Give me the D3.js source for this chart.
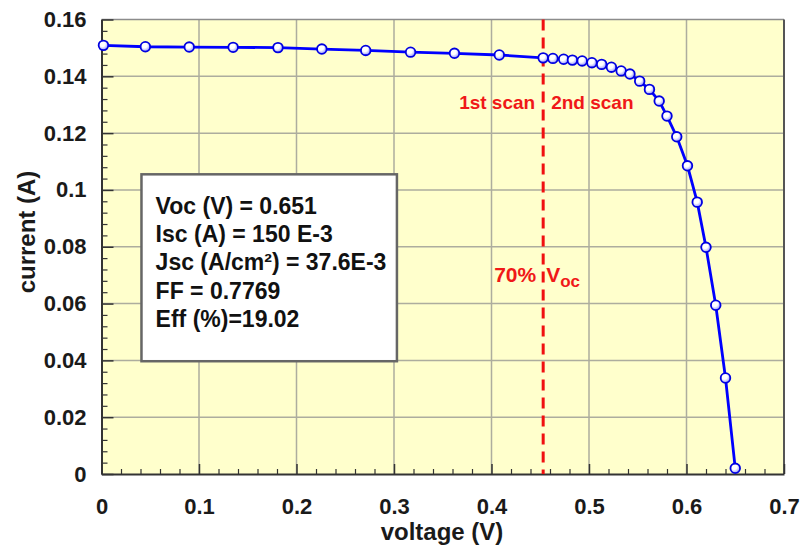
<!DOCTYPE html>
<html>
<head>
<meta charset="utf-8">
<script src="https://cdn.jsdelivr.net/npm/d3@7"></script>
<style>
  body { margin: 0; background: #fff; }
  svg text { font-family: "Liberation Sans", Arial, sans-serif; font-weight: bold; }
</style>
</head>
<body>
<div id="chart"></div>
<script>
// first scan: 0 .. 70% Voc
const firstScanV = [0.002, 0.045, 0.090, 0.135, 0.181, 0.226, 0.271, 0.317, 0.362, 0.408, 0.453];
const firstScanI = [0.1509, 0.1504, 0.1503, 0.1502, 0.1501, 0.1496, 0.1491, 0.1485, 0.1481, 0.1475, 0.1465];
// second scan: 70% Voc .. Voc
const secondScanV = [0.453, 0.463, 0.474, 0.483, 0.493, 0.503, 0.513, 0.523, 0.533, 0.542,
    0.552, 0.562, 0.572, 0.580, 0.590, 0.601, 0.611, 0.620, 0.630, 0.640, 0.650];
const secondScanI = [0.1465, 0.1463, 0.1460, 0.1457, 0.1454, 0.1448, 0.1442, 0.1432, 0.1419, 0.1408,
    0.1383, 0.1354, 0.1313, 0.1260, 0.1187, 0.1085, 0.0957, 0.0798, 0.0594, 0.0338, 0.0020];

const xTicks = [0, 0.1, 0.2, 0.3, 0.4, 0.5, 0.6, 0.7];
const yTicks = [0, 0.02, 0.04, 0.06, 0.08, 0.1, 0.12, 0.14, 0.16];
const splitV = 0.453;
const statLines = ['Voc (V) = 0.651', 'Isc (A) = 150 E-3', 'Jsc (A/cm\u00B2) = 37.6E-3', 'FF = 0.7769', 'Eff (%)=19.02'];

const data = firstScanV.map((v, i) => ({v: v, i: firstScanI[i]}))
    .concat(secondScanV.slice(1).map((v, i) => ({v: v, i: secondScanI[i + 1]})));

const W = 803, H = 548;
const plot = {left: 101.5, right: 784, top: 19.5, bottom: 474};

const svg = d3.select('#chart').append('svg')
    .attr('width', W)
    .attr('height', H);

const defs = svg.append('defs');
const grad = defs.append('radialGradient')
    .attr('id', 'ball')
    .attr('cx', '40%').attr('cy', '35%').attr('r', '70%');
grad.append('stop').attr('offset', '0%').attr('stop-color', '#ffffff');
grad.append('stop').attr('offset', '40%').attr('stop-color', '#ffffff');
grad.append('stop').attr('offset', '75%').attr('stop-color', '#b8b8ff');
grad.append('stop').attr('offset', '100%').attr('stop-color', '#3030ff');

const xScale = d3.scaleLinear()
    .domain([0, 0.7])
    .range([plot.left, plot.right]);

const yScale = d3.scaleLinear()
    .domain([0, 0.16])
    .range([plot.bottom, plot.top]);

// background
svg.append('rect')
    .attr('x', plot.left)
    .attr('y', plot.top)
    .attr('width', plot.right - plot.left)
    .attr('height', plot.bottom - plot.top)
    .attr('fill', '#ffffcc');

// grid
svg.append('g')
    .selectAll('line.vg')
    .data(xTicks.slice(1, -1))
    .enter()
    .append('line')
    .attr('x1', d => xScale(d)).attr('x2', d => xScale(d))
    .attr('y1', plot.top).attr('y2', plot.bottom)
    .attr('stroke', '#adad9e')
    .attr('stroke-width', 1.5);

svg.append('g')
    .selectAll('line.hg')
    .data(yTicks.slice(1, -1))
    .enter()
    .append('line')
    .attr('x1', plot.left).attr('x2', plot.right)
    .attr('y1', d => yScale(d)).attr('y2', d => yScale(d))
    .attr('stroke', '#adad9e')
    .attr('stroke-width', 1.5);

// frame top / right
svg.append('line')
    .attr('x1', plot.left).attr('x2', plot.right)
    .attr('y1', plot.top).attr('y2', plot.top)
    .attr('stroke', '#8c8c8c').attr('stroke-width', 1.5);
svg.append('line')
    .attr('x1', plot.right).attr('x2', plot.right)
    .attr('y1', plot.top).attr('y2', plot.bottom)
    .attr('stroke', '#555').attr('stroke-width', 2);

// minor ticks
const xMinor = d3.range(0, 71, 2).map(d => d / 100).filter(d => xTicks.indexOf(d) < 0);
const yMinor = d3.range(0, 161, 4).map(d => d / 1000).filter(d => yTicks.indexOf(d) < 0);

svg.append('g')
    .attr('transform', `translate(0, ${plot.bottom})`)
    .call(d3.axisBottom(xScale).tickValues(xMinor).tickFormat('').tickSize(-5).tickSizeOuter(0))
    .call(g => g.select('.domain').remove())
    .selectAll('line').attr('stroke', '#333').attr('stroke-width', 1.2);

svg.append('g')
    .attr('transform', `translate(${plot.left}, 0)`)
    .call(d3.axisLeft(yScale).tickValues(yMinor).tickFormat('').tickSize(-6).tickSizeOuter(0))
    .call(g => g.select('.domain').remove())
    .selectAll('line').attr('stroke', '#333').attr('stroke-width', 1.2);

// major axes
const xAxis = d3.axisBottom(xScale)
    .tickValues(xTicks)
    .tickFormat(d => d === 0 ? '0' : d3.format('.1f')(d))
    .tickSize(-10)
    .tickSizeOuter(0)
    .tickPadding(24);

const yAxis = d3.axisLeft(yScale)
    .tickValues(yTicks)
    .tickFormat(d => d === 0 ? '0' : String(+d.toFixed(2)))
    .tickSize(-12)
    .tickSizeOuter(0)
    .tickPadding(15);

const xAxisGroup = svg.append('g')
    .attr('class', 'axis x-axis')
    .attr('transform', `translate(0, ${plot.bottom})`)
    .call(xAxis);

const yAxisGroup = svg.append('g')
    .attr('class', 'axis y-axis')
    .attr('transform', `translate(${plot.left}, 0)`)
    .call(yAxis);

[xAxisGroup, yAxisGroup].forEach(g => {
    g.select('.domain').attr('stroke', '#333').attr('stroke-width', 2);
    g.selectAll('.tick line').attr('stroke', '#333').attr('stroke-width', 1.5);
    g.selectAll('.tick text')
        .attr('fill', '#1a1a1a')
        .style('font-size', '22px')
        .style('font-family', '"Liberation Sans", Arial, sans-serif')
        .style('font-weight', 'bold');
});
xAxisGroup.selectAll('.tick text').attr('dy', '0.71em');

// axis titles
svg.append('text')
    .attr('x', 442)
    .attr('y', 540)
    .attr('text-anchor', 'middle')
    .attr('fill', '#1a1a1a')
    .style('font-size', '24px')
    .text('voltage (V)');

svg.append('text')
    .attr('transform', `translate(35, 232) rotate(-90)`)
    .attr('text-anchor', 'middle')
    .attr('fill', '#1a1a1a')
    .style('font-size', '24px')
    .text('current (A)');

// stats box
const box = svg.append('g');
box.append('rect')
    .attr('x', xScale(0.041))
    .attr('y', yScale(0.1055))
    .attr('width', xScale(0.303) - xScale(0.041))
    .attr('height', yScale(0.0397) - yScale(0.1055))
    .attr('fill', '#fff')
    .attr('stroke', '#666')
    .attr('stroke-width', 2.5);

box.selectAll('text')
    .data(statLines)
    .enter()
    .append('text')
    .attr('x', xScale(0.0555))
    .attr('y', (d, i) => 214 + i * 28.2)
    .attr('fill', '#111')
    .style('font-size', '23px')
    .text(d => d);

// 70% Voc line
svg.append('line')
    .attr('x1', xScale(splitV)).attr('x2', xScale(splitV))
    .attr('y1', plot.top).attr('y2', plot.bottom)
    .attr('stroke', '#f01010')
    .attr('stroke-width', 3)
    .attr('stroke-dasharray', '11,7');

svg.append('text')
    .attr('x', xScale(splitV) - 8)
    .attr('y', 108.5)
    .attr('text-anchor', 'end')
    .attr('fill', '#f01818')
    .style('font-size', '19px')
    .text('1st scan');

svg.append('text')
    .attr('x', xScale(splitV) + 8)
    .attr('y', 108.5)
    .attr('fill', '#f01818')
    .style('font-size', '19px')
    .text('2nd scan');

svg.append('text')
    .attr('x', xScale(splitV) - 7)
    .attr('y', 282)
    .attr('text-anchor', 'end')
    .attr('fill', '#f01818')
    .style('font-size', '21px')
    .text('70%');

const vocLabel = svg.append('text')
    .attr('x', xScale(splitV) + 3)
    .attr('y', 282)
    .attr('fill', '#f01818')
    .style('font-size', '21px');
vocLabel.append('tspan').text('V');
vocLabel.append('tspan').attr('dy', 5).style('font-size', '17px').text('oc');

// curve
const line = d3.line()
    .x(d => xScale(d.v))
    .y(d => yScale(d.i));

svg.append('path')
    .datum(data)
    .attr('d', line)
    .attr('fill', 'none')
    .attr('stroke', '#0000ff')
    .attr('stroke-width', 2.8);

svg.selectAll('circle.pt')
    .data(data)
    .enter()
    .append('circle')
    .attr('class', 'pt')
    .attr('cx', d => xScale(d.v))
    .attr('cy', d => yScale(d.i))
    .attr('r', 4.8)
    .attr('fill', 'url(#ball)')
    .attr('stroke', '#0000e0')
    .attr('stroke-width', 1.8);
</script>
</body>
</html>
